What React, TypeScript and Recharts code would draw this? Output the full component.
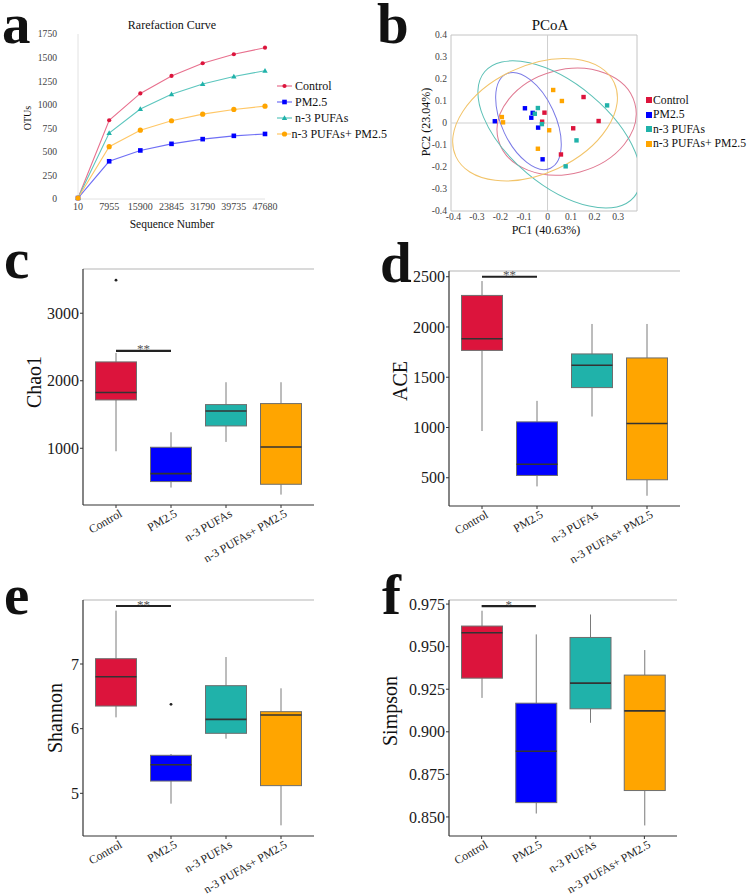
import React from 'react';
import {
  LineChart, Line, XAxis, YAxis, Legend, ScatterChart, Scatter,
  ReferenceLine, ReferenceArea, ComposedChart, Bar,
} from 'recharts';

const FONT = "'Liberation Serif', 'Times New Roman', Times, serif";

// ---------- shared groups ----------
const groups = ['Control', 'PM2.5', 'n-3 PUFAs', 'n-3 PUFAs+ PM2.5'];
const groupFill = ['#DC143C', '#0000FF', '#20B2AA', '#FFA500'];
const lineStroke = ['#E8708E', '#6F6FF5', '#5CC6BE', '#FFC766'];
const ellipseStroke = ['#E07A92', '#7A7AE6', '#5CC0B6', '#F2C46A'];

// ---------- panel a: rarefaction ----------
const seqNumbers = ['10', '7955', '15900', '23845', '31790', '39735', '47680'];
const rareControl = [10, 835, 1120, 1305, 1440, 1535, 1605];
const rarePM25 = [10, 400, 515, 585, 635, 670, 690];
const rarePUFA = [10, 700, 955, 1110, 1220, 1300, 1360];
const rarePUFAPM = [10, 555, 730, 830, 900, 950, 985];
const otuTicks = [0, 250, 500, 750, 1000, 1250, 1500, 1750];

const rareSeries = [rareControl, rarePM25, rarePUFA, rarePUFAPM];
const rareData = seqNumbers.map((s, i) => ({
  seq: s, c0: rareControl[i], c1: rarePM25[i], c2: rarePUFA[i], c3: rarePUFAPM[i],
}));

// ---------- panel b: PCoA ----------
const pcoaControl = [
  { x: 0.153, y: 0.118 }, { x: 0.217, y: 0.009 }, { x: 0.109, y: -0.024 },
  { x: -0.013, y: 0.047 }, { x: -0.023, y: 0.006 }, { x: 0.057, y: -0.143 },
];
const pcoaPM25 = [
  { x: -0.224, y: 0.008 }, { x: -0.096, y: 0.067 }, { x: -0.063, y: 0.046 },
  { x: -0.069, y: 0.024 }, { x: -0.040, y: -0.021 }, { x: -0.021, y: -0.165 },
];
const pcoaPUFA = [
  { x: -0.041, y: 0.068 }, { x: -0.054, y: 0.042 }, { x: -0.024, y: -0.005 },
  { x: 0.253, y: 0.080 }, { x: 0.123, y: -0.079 }, { x: 0.077, y: -0.197 },
];
const pcoaPUFAPM = [
  { x: 0.024, y: 0.150 }, { x: 0.061, y: 0.100 }, { x: -0.194, y: 0.027 },
  { x: -0.189, y: 0.003 }, { x: 0.007, y: -0.033 }, { x: -0.041, y: -0.117 },
];
const pcoaPoints = [pcoaControl, pcoaPM25, pcoaPUFA, pcoaPUFAPM];
// ellipse: centre (data), semi-axes (data units), rotation (deg)
const ellipseControl = { x: 0.081, y: 0.006, a: 0.300, b: 0.221, angle: -15 };
const ellipsePM25 = { x: -0.081, y: 0.009, a: 0.221, b: 0.114, angle: 65 };
const ellipsePUFA = { x: 0.050, y: -0.052, a: 0.414, b: 0.214, angle: 40 };
const ellipsePUFAPM = { x: -0.053, y: 0.015, a: 0.371, b: 0.229, angle: -25 };
const pcoaEllipses = [ellipseControl, ellipsePM25, ellipsePUFA, ellipsePUFAPM];
const pcXTicks = [-0.4, -0.3, -0.2, -0.1, 0, 0.1, 0.2, 0.3];
const pcYTicks = [-0.4, -0.3, -0.2, -0.1, 0, 0.1, 0.2, 0.3, 0.4];
const PC_X_DOMAIN = [-0.41, 0.38];
const PC_Y_DOMAIN = [-0.4, 0.4];

// ---------- panels c-f: box plots [min, q1, median, q3, max] ----------
const chao1Box = [
  [956, 1716, 1825, 2279, 2412],
  [418, 507, 625, 1015, 1237],
  [1094, 1331, 1553, 1647, 1978],
  [314, 467, 1020, 1662, 1978],
];
const chao1Out = [[3489], [], [], []];
const chao1Ticks = [1000, 2000, 3000];

const aceBox = [
  [965, 1767, 1883, 2314, 2457],
  [414, 523, 635, 1056, 1265],
  [1109, 1397, 1619, 1732, 2030],
  [321, 480, 1040, 1692, 2030],
];
const aceOut = [[], [], [], []];
const aceTicks = [500, 1000, 1500, 2000, 2500];

const shannonBox = [
  [6.175, 6.35, 6.804, 7.082, 7.825],
  [4.84, 5.19, 5.443, 5.588, 5.608],
  [5.845, 5.928, 6.144, 6.665, 7.108],
  [4.505, 5.119, 6.211, 6.263, 6.624],
];
const shannonOut = [[], [6.376], [], []];
const shannonTicks = [5, 6, 7];

const simpsonBox = [
  [0.9199, 0.9315, 0.9582, 0.9621, 0.9711],
  [0.852, 0.8584, 0.8886, 0.9168, 0.9572],
  [0.9053, 0.9135, 0.9286, 0.9554, 0.9689],
  [0.845, 0.8655, 0.9123, 0.9333, 0.948],
];
const simpsonOut = [[], [], [], []];
const simpsonTicks = [0.85, 0.875, 0.9, 0.925, 0.95, 0.975];

// ---------- components ----------
function Marker({ kind, cx, cy, color }) {
  if (kind === 1) return <rect x={cx - 2.3} y={cy - 2.3} width={4.6} height={4.6} fill={color} />;
  if (kind === 2) return <polygon points={`${cx},${cy - 2.8} ${cx - 2.7},${cy + 2} ${cx + 2.7},${cy + 2}`} fill={color} />;
  if (kind === 3) return <circle cx={cx} cy={cy} r={2.6} fill={color} />;
  return <circle cx={cx} cy={cy} r={2.1} fill={color} />;
}

const makeDot = (k) => (props) => {
  const { cx, cy, index } = props;
  if (cx == null || cy == null) return <g key={`d${k}-${index}`} />;
  return <Marker key={`d${k}-${index}`} kind={k} cx={cx} cy={cy} color={groupFill[k]} />;
};

const RareLegend = ({ payload }) => (
  <div style={{ fontFamily: FONT, fontSize: 12, color: '#111' }}>
    {(payload || []).map((p) => {
      const k = Number(String(p.dataKey).slice(1));
      return (
        <div key={p.value} style={{ display: 'flex', alignItems: 'center', height: 16, whiteSpace: 'nowrap' }}>
          <svg width={18} height={10} style={{ display: 'block' }}>
            <line x1={0} x2={15} y1={5} y2={5} stroke={lineStroke[k]} strokeWidth={1.2} />
            <Marker kind={k} cx={7.5} cy={5} color={groupFill[k]} />
          </svg>
          <span>{p.value}</span>
        </div>
      );
    })}
  </div>
);

const PcoaLegend = ({ payload }) => (
  <div style={{ fontFamily: FONT, fontSize: 11.7, color: '#111' }}>
    {(payload || []).filter((p) => groups.includes(p.value)).map((p) => (
      <div key={p.value} style={{ display: 'flex', alignItems: 'center', height: 14.5, whiteSpace: 'nowrap' }}>
        <span style={{ display: 'inline-block', width: 6, height: 6, background: groupFill[groups.indexOf(p.value)], marginRight: 1 }} />
        <span>{p.value}</span>
      </div>
    ))}
  </div>
);

const PC_PLOT_W = 186;
const PX_PER_UNIT = PC_PLOT_W / (PC_X_DOMAIN[1] - PC_X_DOMAIN[0]);

const makeEllipseShape = (k) => (props) => {
  const { cx, cy, payload } = props;
  if (cx == null) return <g />;
  return (
    <ellipse
      cx={cx} cy={cy}
      rx={payload.a * PX_PER_UNIT} ry={payload.b * PX_PER_UNIT}
      transform={`rotate(${payload.angle} ${cx} ${cy})`}
      fill="none" stroke={ellipseStroke[k]} strokeWidth={1}
    />
  );
};

const makePointShape = (k) => (props) => {
  const { cx, cy } = props;
  if (cx == null) return <g />;
  return <rect x={cx - 2.2} y={cy - 2.2} width={4.4} height={4.4} fill={groupFill[k]} />;
};

const pcFmt = (v) => (Math.abs(v) < 1e-9 ? '0' : v.toFixed(1));

const BoxShape = (props) => {
  const { x, y, width, height, payload } = props;
  if (x == null || !payload) return <g />;
  const [mn, q1, med, q3, mx] = payload.st;
  const toPx = (v) => y + ((mx - v) / (mx - mn)) * height;
  const cx = x + width / 2;
  return (
    <g>
      <line x1={cx} x2={cx} y1={toPx(mx)} y2={toPx(q3)} stroke="#7a7a7a" strokeWidth={1} />
      <line x1={cx} x2={cx} y1={toPx(q1)} y2={toPx(mn)} stroke="#7a7a7a" strokeWidth={1} />
      <rect x={x} y={toPx(q3)} width={width} height={toPx(q1) - toPx(q3)} fill={payload.color} stroke="#6e6e6e" strokeWidth={1} />
      <line x1={x} x2={x + width} y1={toPx(med)} y2={toPx(med)} stroke="#333" strokeWidth={1.6} />
      {payload.out.map((o, i) => (
        <circle key={i} cx={cx} cy={toPx(o)} r={1.4} fill="#222" />
      ))}
    </g>
  );
};

const RotTick = (props) => {
  const { x, y, payload } = props;
  return (
    <g transform={`translate(${x + 3},${y})`}>
      <text transform="rotate(-30)" textAnchor="end" dy="0.66em" fontSize={11.8} fontFamily={FONT} fill="#222">
        {payload.value}
      </text>
    </g>
  );
};

const SigLabel = (props) => {
  const vb = props.viewBox || {};
  const x = (vb.x || 0) + (vb.width || 0) / 2;
  const y = vb.y || 0;
  return (
    <text x={x} y={y + 2.5} textAnchor="middle" fontSize={13} fontFamily={FONT} fill="#555">
      {props.text}
    </text>
  );
};

function BoxPanel({ left, top, width, height, margin, yWidth, domain, ticks, fmt, stats, outliers, sigY, sigText }) {
  const data = groups.map((g, i) => ({
    name: g, range: [stats[i][0], stats[i][4]], st: stats[i], out: outliers[i], color: groupFill[i],
  }));
  return (
    <div style={{ position: 'absolute', left, top, width, height }}>
      <ComposedChart width={width} height={height} data={data} margin={margin}>
        <XAxis
          dataKey="name" type="category" padding={{ left: 5.5, right: 5.5 }} height={60} interval={0}
          tick={<RotTick />} tickSize={3} tickMargin={1}
          tickLine={{ stroke: '#333' }} axisLine={{ stroke: '#333', strokeWidth: 1.2 }}
        />
        <YAxis
          type="number" domain={domain} ticks={ticks} allowDataOverflow width={yWidth}
          tickFormatter={fmt} tickSize={3} tickMargin={1} interval={0}
          tick={{ fontSize: 16, fontFamily: FONT, fill: '#1a1a1a' }}
          tickLine={{ stroke: '#333' }} axisLine={{ stroke: '#333', strokeWidth: 1.2 }}
        />
        <YAxis yAxisId="r" orientation="right" width={0} tick={false} tickLine={false} axisLine={{ stroke: '#b5b5b5' }} />
        <ReferenceLine y={domain[1]} stroke="#b5b5b5" />
        <Bar dataKey="range" barSize={41} shape={BoxShape} isAnimationActive={false} />
        <ReferenceLine
          segment={[{ x: 'Control', y: sigY }, { x: 'PM2.5', y: sigY }]}
          stroke="#222" strokeWidth={2.2}
          label={<SigLabel text={sigText} />}
        />
      </ComposedChart>
    </div>
  );
}

// panel letters: baseline positions
const panelLetters = [
  { t: 'a', x: 2, base: 43 },
  { t: 'b', x: 377, base: 43 },
  { t: 'c', x: 4, base: 278 },
  { t: 'd', x: 380, base: 282 },
  { t: 'e', x: 4, base: 614 },
  { t: 'f', x: 382, base: 614 },
];
const LETTER_SIZE = 57;
const LETTER_LH = 40;
// baseline offset inside a line box of height LETTER_LH (Liberation Serif ascent .891, descent .216)
const LETTER_BASE_OFF = (LETTER_LH - 1.107 * LETTER_SIZE) / 2 + 0.891 * LETTER_SIZE;

const centerTexts = [
  { t: 'Rarefaction Curve', x: 172, y: 25, s: 12, r: 0 },
  { t: 'OTUs', x: 27, y: 118, s: 10, r: -90 },
  { t: 'Sequence Number', x: 172, y: 224, s: 11.5, r: 0 },
  { t: 'PCoA', x: 550, y: 25, s: 15, r: 0 },
  { t: 'PC2 (23.04%)', x: 426, y: 122, s: 12, r: -90 },
  { t: 'PC1 (40.63%)', x: 546, y: 230, s: 12, r: 0 },
  { t: 'Chao1', x: 34, y: 382, s: 20, r: -90 },
  { t: 'ACE', x: 400, y: 381, s: 20, r: -90 },
  { t: 'Shannon', x: 55, y: 718, s: 20, r: -90 },
  { t: 'Simpson', x: 390, y: 711, s: 20, r: -90 },
];

export default function App() {
  return (
    <div style={{ position: 'absolute', left: 0, top: 0, width: 749, height: 896, background: '#fff', overflow: 'hidden' }}>
      {/* panel a */}
      <div style={{ position: 'absolute', left: 0, top: 0, width: 380, height: 240 }}>
        <LineChart width={380} height={240} data={rareData} margin={{ top: 34, right: 115, bottom: 21, left: 0 }}>
          <XAxis
            dataKey="seq" height={20} tickLine={false} tickSize={0} tickMargin={4} interval={0}
            axisLine={{ stroke: '#e2e2e2' }}
            tick={{ fontSize: 10, fontFamily: FONT, fill: '#444' }}
          />
          <YAxis
            domain={[0, 1750]} ticks={otuTicks} width={78} interval={0}
            tickLine={false} tickSize={0} tickMargin={21}
            axisLine={{ stroke: '#e2e2e2' }}
            tick={{ fontSize: 9.6, fontFamily: FONT, fill: '#444' }}
          />
          {rareSeries.map((_, k) => (
            <Line
              key={k} type="linear" dataKey={`c${k}`} name={groups[k]}
              stroke={lineStroke[k]} strokeWidth={1.1} dot={makeDot(k)} activeDot={false}
              isAnimationActive={false}
            />
          ))}
          <Legend
            layout="horizontal" verticalAlign="middle" align="center"
            content={<RareLegend />}
            wrapperStyle={{ left: 277, top: 78, width: 110 }}
          />
        </LineChart>
      </div>

      {/* panel b */}
      <div style={{ position: 'absolute', left: 380, top: 0, width: 369, height: 240 }}>
        <ScatterChart width={369} height={240} margin={{ top: 35, right: 112, bottom: 0, left: 0 }}>
          <XAxis
            type="number" dataKey="x" domain={PC_X_DOMAIN} ticks={pcXTicks} allowDataOverflow interval={0}
            height={29} axisLine={false} tickLine={false} tickSize={0} tickMargin={2}
            tickFormatter={pcFmt} tick={{ fontSize: 9.6, fontFamily: FONT, fill: '#444' }}
          />
          <YAxis
            type="number" dataKey="y" domain={PC_Y_DOMAIN} ticks={pcYTicks} allowDataOverflow interval={0}
            width={71} axisLine={false} tickLine={false} tickSize={0} tickMargin={4}
            tickFormatter={pcFmt} tick={{ fontSize: 9.6, fontFamily: FONT, fill: '#444' }}
          />
          <ReferenceArea
            x1={PC_X_DOMAIN[0]} x2={PC_X_DOMAIN[1]} y1={PC_Y_DOMAIN[0]} y2={PC_Y_DOMAIN[1]}
            fill="none" fillOpacity={0} stroke="#c4c4c4" strokeWidth={1}
          />
          <ReferenceLine x={0} stroke="#cfcfcf" />
          <ReferenceLine y={0} stroke="#cfcfcf" />
          {pcoaEllipses.map((e, k) => (
            <Scatter
              key={`e${k}`} data={[e]} dataKey="y" legendType="none"
              shape={makeEllipseShape(k)} isAnimationActive={false}
            />
          ))}
          {pcoaPoints.map((pts, k) => (
            <Scatter
              key={`p${k}`} name={groups[k]} data={pts} dataKey="y" fill={groupFill[k]}
              shape={makePointShape(k)} isAnimationActive={false}
            />
          ))}
          <Legend
            layout="horizontal" verticalAlign="middle" align="center"
            content={<PcoaLegend />}
            wrapperStyle={{ left: 266, top: 93, width: 103 }}
          />
        </ScatterChart>
      </div>

      {/* panel c */}
      <BoxPanel
        left={0} top={230} width={380} height={340}
        margin={{ top: 39, right: 66, bottom: 5, left: 0 }} yWidth={83}
        domain={[160, 3655]} ticks={chao1Ticks} fmt={(v) => String(v)}
        stats={chao1Box} outliers={chao1Out} sigY={2442} sigText="**"
      />
      {/* panel d */}
      <BoxPanel
        left={380} top={230} width={369} height={340}
        margin={{ top: 41, right: 69, bottom: 4, left: 0 }} yWidth={69}
        domain={[219, 2557]} ticks={aceTicks} fmt={(v) => String(v)}
        stats={aceBox} outliers={aceOut} sigY={2500} sigText="**"
      />
      {/* panel e */}
      <BoxPanel
        left={0} top={560} width={380} height={336}
        margin={{ top: 40, right: 66, bottom: 0, left: 0 }} yWidth={83}
        domain={[4.34, 7.99]} ticks={shannonTicks} fmt={(v) => String(v)}
        stats={shannonBox} outliers={shannonOut} sigY={7.897} sigText="**"
      />
      {/* panel f */}
      <BoxPanel
        left={380} top={560} width={369} height={336}
        margin={{ top: 40, right: 72, bottom: 0, left: 0 }} yWidth={69}
        domain={[0.8388, 0.9774]} ticks={simpsonTicks} fmt={(v) => v.toFixed(3)}
        stats={simpsonBox} outliers={simpsonOut} sigY={0.9738} sigText="*"
      />

      {/* panel letters */}
      {panelLetters.map((o) => (
        <div
          key={o.t}
          style={{
            position: 'absolute', left: o.x, top: o.base - LETTER_BASE_OFF,
            fontFamily: FONT, fontSize: LETTER_SIZE, fontWeight: 'bold', lineHeight: `${LETTER_LH}px`,
            color: '#111', pointerEvents: 'none', whiteSpace: 'nowrap',
          }}
        >
          {o.t}
        </div>
      ))}

      {/* free text overlay */}
      <svg width={749} height={896} style={{ position: 'absolute', left: 0, top: 0, pointerEvents: 'none' }}>
        {centerTexts.map((o) => (
          <text
            key={o.t} x={o.x} y={o.y} fontSize={o.s} fontFamily={FONT} fill="#111"
            textAnchor="middle" dominantBaseline="central"
            transform={o.r ? `rotate(${o.r} ${o.x} ${o.y})` : undefined}
          >
            {o.t}
          </text>
        ))}
      </svg>
    </div>
  );
}
